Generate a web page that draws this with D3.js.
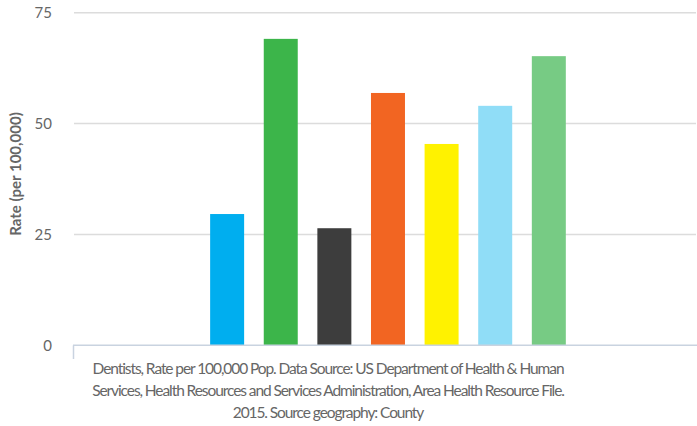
<!DOCTYPE html>
<html><head><meta charset="utf-8">
<script src="https://cdn.jsdelivr.net/npm/d3@7"></script>
<style>body{margin:0;background:#fff}svg{display:block}</style>
</head><body>
<svg id="c" width="697" height="426"></svg>
<script>
const series = ["S1","S2","S3","S4","S5","S6","S7"];
const values = [29.6, 69.1, 26.4, 56.9, 45.4, 54.0, 65.2];
const colors = ["#00aeef","#3cb54a","#3d3d3d","#f26522","#fff200","#90ddf7","#77cb84"];
const yTicks = [0, 25, 50, 75];
const yLabel = "Rate (per 100,000)";
const caption = [
  "Dentists, Rate per 100,000 Pop. Data Source: US Department of Health & Human",
  "Services, Health Resources and Services Administration, Area Health Resource File.",
  "2015. Source geography: County"
];
const category = ["County"];

const svg = d3.select("#c");
const L = 74, R = 697, T = 12.7, B = 345.3;
const font = "Lato, 'Open Sans', sans-serif";

const y = d3.scaleLinear().domain([0, 75]).range([B, T]);
const x0 = d3.scaleBand().domain(category).range([L, R]).paddingInner(0).paddingOuter(0.33).align(0.51);
const x1 = d3.scaleBand().domain(series).range([0, x0.bandwidth()]).paddingInner(0.366).paddingOuter(0.183);

svg.append("g").selectAll("line").data(yTicks.filter(d => d > 0)).join("line")
  .attr("x1", L).attr("x2", R - 1)
  .attr("y1", d => y(d)).attr("y2", d => y(d))
  .attr("stroke", "#dcdcdc").attr("stroke-width", 1.5);

const yAxis = d3.axisLeft(y).tickValues(yTicks).tickSize(0).tickPadding(0);
const gy = svg.append("g").attr("transform", `translate(52,0)`).call(yAxis);
gy.select(".domain").remove();
gy.selectAll("text").attr("font-family", font).attr("font-size", 15).attr("fill", "#666");

const g = svg.append("g").attr("transform", `translate(${x0(category[0])},0)`);
g.selectAll("rect").data(values).join("rect")
  .attr("x", (d, i) => x1(series[i]))
  .attr("width", x1.bandwidth())
  .attr("y", d => y(d))
  .attr("height", d => y(0) - y(d))
  .attr("fill", (d, i) => colors[i]);

svg.append("line").attr("x1", L - 1).attr("x2", R).attr("y1", B).attr("y2", B)
  .attr("stroke", "#c9d3e0").attr("stroke-width", 1.5);
svg.append("line").attr("x1", L - 0.5).attr("x2", L - 0.5).attr("y1", B).attr("y2", 359)
  .attr("stroke", "#c9d3e0").attr("stroke-width", 1.5);

svg.append("text").attr("transform", "translate(21,174) rotate(-90)")
  .attr("text-anchor", "middle").attr("font-family", font).attr("font-weight", "bold")
  .attr("font-size", 15).attr("fill", "#666").text(yLabel);

const cap = svg.append("text").attr("font-family", font).attr("font-size", 15.5).attr("fill", "#666")
  .attr("text-anchor", "middle");
caption.forEach((t, i) => {
  cap.append("tspan").attr("x", 328).attr("y", 374 + i * 22).text(t);
});
const tsp = cap.selectAll("tspan").nodes();
const widest = tsp[1];
const w = widest.getComputedTextLength();
const ls = (472 - w) / caption[1].length;
cap.attr("letter-spacing", ls.toFixed(3));
</script>
</body></html>
